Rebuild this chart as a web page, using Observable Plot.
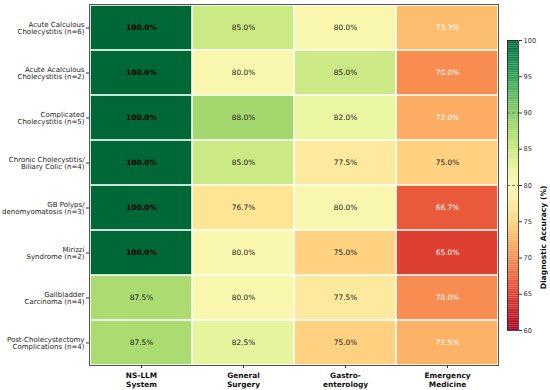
<!DOCTYPE html>
<html><head><meta charset="utf-8">
<script src="https://cdn.jsdelivr.net/npm/d3@7"></script>
<script src="https://cdn.jsdelivr.net/npm/@observablehq/plot@0.6"></script>
<style>
html,body{margin:0;padding:0;background:#fff;}
#wrap{position:relative;width:550px;height:390px;font-family:"DejaVu Sans",sans-serif;}
#wrap svg{position:absolute;overflow:visible;}
</style></head>
<body><div id="wrap"></div>
<script>
const categories = [
  "Acute Calculous\nCholecystitis (n=6)",
  "Acute Acalculous\nCholecystitis (n=2)",
  "Complicated\nCholecystitis (n=5)",
  "Chronic Cholecystitis/\nBiliary Colic (n=4)",
  "GB Polyps/\ndenomyomatosis (n=3)",
  "Mirizzi\nSyndrome (n=2)",
  "Gallbladder\nCarcinoma (n=4)",
  "Post-Cholecystectomy\nComplications (n=4)"
];
const methods = ["NS-LLM\nSystem", "General\nSurgery", "Gastro-\nenterology", "Emergency\nMedicine"];
const nsllm   = [100, 100, 100, 100, 100, 100, 87.5, 87.5];
const genSurg = [85, 80, 88, 85, 76.7, 80, 80, 82.5];
const gastro  = [80, 85, 82, 77.5, 80, 75, 77.5, 75];
const emerg   = [73.3, 70, 72, 75, 66.7, 65, 70, 72.5];
const colorTicks = [60, 65, 70, 75, 80, 85, 90, 95, 100];
const thresholds = [80, 90];

const series = [nsllm, genSurg, gastro, emerg];
const data = [];
methods.forEach((m, j) => categories.forEach((c, i) => data.push({method: m, cat: c, value: series[j][i]})));

const colorOpt = {type: "linear", scheme: "RdYlGn", domain: [60, 100]};
const font = "DejaVu Sans";
const fmt = d => d.value.toFixed(1) + "%";

const main = Plot.plot({
  width: 550, height: 390,
  marginLeft: 89, marginRight: 52, marginTop: 4, marginBottom: 25,
  style: {fontFamily: font, background: "transparent"},
  x: {domain: methods, padding: 0, label: null},
  y: {domain: categories, padding: 0, label: null},
  color: colorOpt,
  marks: [
    Plot.cell(data, {x: "method", y: "cat", fill: "value", inset: 0.8}),
    Plot.text(data.filter(d => d.value < 100), {x: "method", y: "cat", text: fmt,
      fill: d => d.value < 74 ? "#ffffff" : "#1a1a1a", fontSize: 7.4}),
    Plot.text(data.filter(d => d.value === 100), {x: "method", y: "cat", text: fmt,
      fill: "#000000", fontWeight: "bold", fontSize: 7.4}),
    Plot.frame({stroke: "#555", strokeWidth: 1}),
    Plot.axisY({tickSize: 3, tickPadding: 2, fontSize: 7, lineHeight: 1.12, stroke: "#333", fill: "#222"}),
    Plot.axisX({tickSize: 3, tickPadding: 3, fontSize: 7.4, fontWeight: "bold", lineHeight: 1.2, stroke: "#333", fill: "#111"})
  ]
});
main.style.left = "0px"; main.style.top = "0px";
document.getElementById("wrap").appendChild(main);

const steps = d3.range(60, 100, 0.25);
const bar = Plot.plot({
  width: 50, height: 300,
  marginLeft: 7, marginRight: 32, marginTop: 4, marginBottom: 6,
  style: {fontFamily: font, background: "transparent"},
  x: {domain: [0, 1], axis: null},
  y: {domain: [60, 100], axis: null},
  color: colorOpt,
  marks: [
    Plot.rect(steps, {x1: 0, x2: 1, y1: d => d, y2: d => d + 0.25, fill: d => d + 0.125}),
    Plot.ruleY(thresholds, {stroke: "#555", strokeDasharray: "3,2", strokeWidth: 0.8}),
    Plot.frame({stroke: "#222", strokeWidth: 0.8}),
    Plot.axisY(colorTicks, {anchor: "right", tickSize: 3, tickPadding: 2, fontSize: 6.6, label: null, stroke: "#333", fill: "#333"}),
    Plot.text(["Diagnostic Accuracy (%)"], {frameAnchor: "right", dx: 25, rotate: -90, fontWeight: "bold", fontSize: 7.6, fill: "#111"})
  ]
});
bar.style.left = "500px"; bar.style.top = "36px";
document.getElementById("wrap").appendChild(bar);
</script>
</body></html>
